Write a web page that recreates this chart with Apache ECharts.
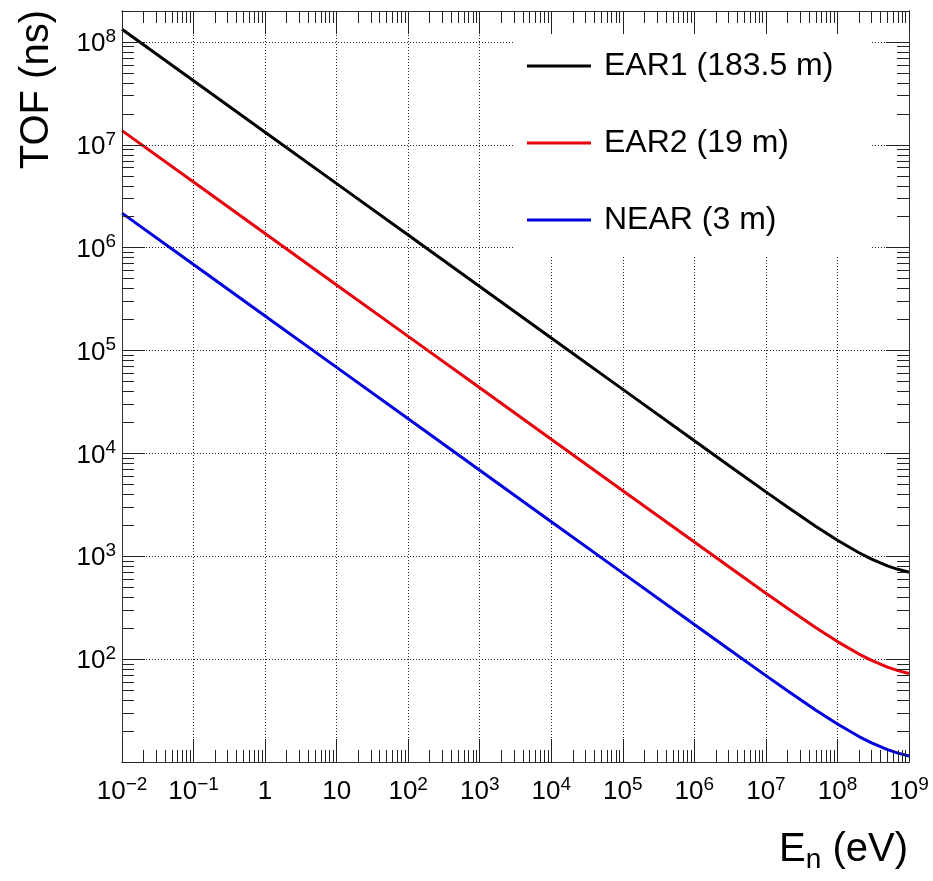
<!DOCTYPE html>
<html>
<head>
<meta charset="utf-8">
<script src="https://cdn.jsdelivr.net/npm/echarts@6/dist/echarts.min.js"></script>
<style>
  html, body { margin: 0; padding: 0; background: #fff; }
  #chart { width: 933px; height: 881px; }
</style>
</head>
<body>
<div id="chart"></div>
<script>
// Neutron kinetic energy (eV)
const energies = [1e-2, 1e-1, 1, 1e1, 1e2, 1e3, 1e4, 1e5, 1e6, 3e6, 1e7, 2e7, 5e7, 1e8, 2e8, 3e8, 5e8, 7e8, 1e9];

// Time of flight (ns) for each flight path
const tofEAR1 = [1.3267e8, 4.1954e7, 1.3267e7, 4.1954e6, 1.3267e6, 4.1954e5, 1.3267e5, 4.1957e4, 1.3277e4, 7677.9, 4228.8, 3013.7, 1950.3, 1430.3, 1081.7, 938.4, 807.9, 746.9, 699.7];
const tofEAR2 = [1.3737e7, 4.3440e6, 1.3737e6, 4.3440e5, 1.3737e5, 4.3440e4, 1.3737e4, 4344.3, 1374.8, 795.0, 437.9, 312.0, 201.9, 148.1, 112.0, 97.16, 83.65, 77.34, 72.45];
const tofNEAR = [2.1690e6, 6.8590e5, 2.1690e5, 6.8590e4, 2.1690e4, 6859.0, 2169.0, 685.9, 217.1, 125.5, 69.14, 49.27, 31.88, 23.38, 17.68, 15.34, 13.21, 12.21, 11.44];

const seriesNames = ['EAR1 (183.5 m)', 'EAR2 (19 m)', 'NEAR (3 m)'];
const seriesColors = ['#000000', '#e8000b', '#0000e0'];

// Decade tick positions
const xDecades = [1e-2, 1e-1, 1, 1e1, 1e2, 1e3, 1e4, 1e5, 1e6, 1e7, 1e8, 1e9];
const yDecades = [1e1, 1e2, 1e3, 1e4, 1e5, 1e6, 1e7, 1e8];
const yLabelled = [1e2, 1e3, 1e4, 1e5, 1e6, 1e7, 1e8];
const xRange = [1e-2, 1e9];
const yRange = [1e1, 2e8];

// 2..9 sub-ticks within each decade
function subTicks(decades) {
  const out = [];
  decades.forEach(function (d) {
    for (let k = 2; k <= 9; k++) out.push(+(k * d).toPrecision(3));
  });
  return out;
}
const xMinor = subTicks(xDecades);
const yMinor = subTicks(yDecades);

const FONT = 'Liberation Sans, Arial, Helvetica, sans-serif';
const FRAME = '#333';

function powLabel(v) {
  const n = Math.round(Math.log10(v));
  if (n === 0) return '{b|1}';
  if (n === 1) return '{b|10}';
  return '{b|10}{s|' + (n < 0 ? '\u2212' + (-n) : n) + '}';
}
const labelRich = {
  b: { fontSize: 26, lineHeight: 34, fontFamily: FONT, color: '#000' },
  s: { fontSize: 19, lineHeight: 19, fontFamily: FONT, color: '#000', verticalAlign: 'top' }
};

function frameAxis(position, range, ticks, len, extra) {
  return Object.assign({
    type: 'log', logBase: 10, gridIndex: 0, position: position,
    min: range[0], max: range[1], z: 10,
    axisLine: { show: true, onZero: false, lineStyle: { color: FRAME, width: 1 } },
    axisTick: { show: true, inside: true, length: len, customValues: ticks,
                lineStyle: { color: '#222', width: 1 } },
    axisLabel: { show: false },
    splitLine: { show: false },
    minorTick: { show: false },
    minorSplitLine: { show: false }
  }, extra || {});
}

const xAxes = [
  frameAxis('bottom', xRange, xDecades, 23, {
    axisLabel: { show: true, customValues: xDecades, margin: 13, formatter: powLabel, rich: labelRich },
    name: '{e|E}{n|n}{e| (eV)}',
    nameLocation: 'end',
    nameGap: -1,
    nameMoveOverlap: false,
    nameTextStyle: {
      align: 'right', verticalAlign: 'top', padding: [64, 0, 0, 0],
      rich: {
        e: { fontSize: 40, lineHeight: 48, fontFamily: FONT, color: '#000' },
        n: { fontSize: 28, lineHeight: 28, fontFamily: FONT, color: '#000', verticalAlign: 'bottom' }
      }
    }
  }),
  frameAxis('bottom', xRange, xMinor, 12),
  frameAxis('top', xRange, xDecades, 23),
  frameAxis('top', xRange, xMinor, 12),
  // dotted grid at decades
  {
    type: 'log', logBase: 10, gridIndex: 0, position: 'bottom', min: xRange[0], max: xRange[1], z: 0,
    axisLine: { show: false, onZero: false }, axisLabel: { show: false },
    axisTick: { show: false, customValues: xDecades },
    splitLine: { show: true, lineStyle: { color: '#222', width: 1, type: [1, 2] } }
  }
];

const yAxes = [
  frameAxis('left', yRange, yDecades, 23, {
    axisLabel: { show: true, customValues: yLabelled, margin: 6, padding: [4, 0, 0, 0], formatter: powLabel, rich: labelRich },
    name: 'TOF (ns)',
    nameLocation: 'end',
    nameRotate: 90,
    nameGap: 1,
    nameMoveOverlap: false,
    nameTextStyle: {
      fontSize: 40, lineHeight: 48, fontFamily: FONT, color: '#000',
      align: 'right', verticalAlign: 'bottom', padding: [0, 0, 61, 0]
    }
  }),
  frameAxis('left', yRange, yMinor, 12),
  frameAxis('right', yRange, yDecades, 23),
  frameAxis('right', yRange, yMinor, 12),
  {
    type: 'log', logBase: 10, gridIndex: 0, position: 'left', min: yRange[0], max: yRange[1], z: 0,
    axisLine: { show: false, onZero: false }, axisLabel: { show: false },
    axisTick: { show: false, customValues: yDecades },
    splitLine: { show: true, lineStyle: { color: '#222', width: 1, type: [1, 2] } }
  }
];

function toPairs(ys) {
  return energies.map(function (e, i) { return [e, ys[i]]; });
}
const tofSets = [tofEAR1, tofEAR2, tofNEAR];

const chart = echarts.init(document.getElementById('chart'), null, { renderer: 'canvas' });
chart.setOption({
  animation: false,
  backgroundColor: '#fff',
  textStyle: { fontFamily: FONT },
  grid: { left: 122, right: 24, top: 11, bottom: 119, containLabel: false, outerBoundsMode: 'none' },
  xAxis: xAxes,
  yAxis: yAxes,
  legend: {
    orient: 'vertical',
    left: 515,
    top: 13,
    padding: [33, 37, 17, 12],
    backgroundColor: '#fff',
    itemWidth: 64,
    itemHeight: 3,
    itemGap: 37,
    icon: 'rect',
    z: 4,
    textStyle: { fontSize: 32, lineHeight: 40, fontFamily: FONT, color: '#000', padding: [0, 0, 0, 8] },
    data: seriesNames
  },
  series: seriesNames.map(function (name, i) {
    return {
      name: name,
      type: 'line',
      xAxisIndex: 0,
      yAxisIndex: 0,
      data: toPairs(tofSets[i]),
      showSymbol: false,
      symbol: 'none',
      smooth: false,
      color: seriesColors[i],
      lineStyle: { color: seriesColors[i], width: 3 },
      z: 2
    };
  })
});
</script>
</body>
</html>
